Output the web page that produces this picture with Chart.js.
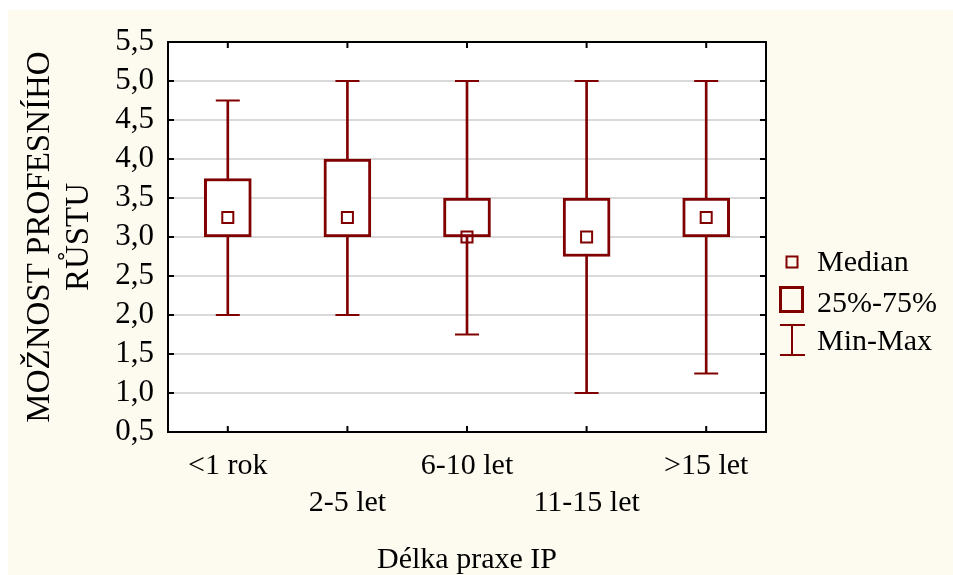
<!DOCTYPE html>
<html>
<head>
<meta charset="utf-8">
<script src="https://cdn.jsdelivr.net/npm/chart.js@4.4.1/dist/chart.umd.min.js"></script>
<style>
  html, body { margin: 0; padding: 0; background: #fff; }
  #wrap { width: 953px; height: 575px; position: relative; }
</style>
</head>
<body>
<div id="wrap"><canvas id="chart"></canvas></div>
<script>
// --- DATA ---
const categories = ['<1 rok', '2-5 let', '6-10 let', '11-15 let', '>15 let'];
const minima  = [2.0, 2.0, 1.75, 1.0, 1.25];
const q1      = [3.0, 3.0, 3.0, 2.75, 3.0];
const medians = [3.25, 3.25, 3.0, 3.0, 3.25];
const q3      = [3.75, 4.0, 3.5, 3.5, 3.5];
const maxima  = [4.75, 5.0, 5.0, 5.0, 5.0];
const yMin = 0.5, yMax = 5.5, yStep = 0.5;
const legendLabels = ['Median', '25%-75%', 'Min-Max'];

const RED = '#800000';
const FONT = '"Liberation Serif", "Times New Roman", serif';

// pozadí + bílá plocha grafu
const backgroundPlugin = {
  id: 'background',
  beforeDraw(chart) {
    const { ctx, chartArea: a } = chart;
    ctx.save();
    ctx.fillStyle = '#fdfaf0';
    ctx.fillRect(8, 10, chart.width - 8, chart.height - 10);
    ctx.fillStyle = '#fff';
    ctx.fillRect(a.left, a.top, a.right - a.left, a.bottom - a.top);
    ctx.restore();
  }
};

// rámeček s tickmarky dovnitř
const framePlugin = {
  id: 'frame',
  afterDraw(chart) {
    const { ctx, chartArea: a } = chart;
    const x = chart.scales.x, y = chart.scales.y;
    ctx.save();
    ctx.strokeStyle = '#000';
    ctx.lineWidth = 2;
    ctx.strokeRect(a.left, a.top, a.right - a.left, a.bottom - a.top);
    ctx.beginPath();
    y.ticks.forEach(t => {
      const py = y.getPixelForValue(t.value);
      ctx.moveTo(a.left, py); ctx.lineTo(a.left + 6, py);
      ctx.moveTo(a.right, py); ctx.lineTo(a.right - 6, py);
    });
    categories.forEach((c, i) => {
      const px = x.getPixelForValue(i);
      ctx.moveTo(px, a.top); ctx.lineTo(px, a.top + 6);
      ctx.moveTo(px, a.bottom); ctx.lineTo(px, a.bottom - 6);
    });
    ctx.stroke();
    ctx.restore();
  }
};

// legenda vpravo
const legendPlugin = {
  id: 'boxLegend',
  afterDraw(chart) {
    const { ctx } = chart;
    const cx = 792, tx = 817;
    ctx.save();
    ctx.strokeStyle = RED;
    // Median
    ctx.lineWidth = 2;
    ctx.strokeRect(cx - 5.5, 256.5, 11, 11);
    // 25%-75%
    ctx.lineWidth = 3;
    ctx.strokeRect(780.5, 287.5, 22, 24);
    // Min-Max
    ctx.lineWidth = 2;
    ctx.beginPath();
    ctx.moveTo(cx, 325); ctx.lineTo(cx, 355);
    ctx.moveTo(780, 325); ctx.lineTo(805, 325);
    ctx.moveTo(780, 355); ctx.lineTo(805, 355);
    ctx.stroke();
    ctx.fillStyle = '#000';
    ctx.font = '30px ' + FONT;
    ctx.textBaseline = 'alphabetic';
    ctx.textAlign = 'left';
    ctx.fillText(legendLabels[0], tx, 271);
    ctx.fillText(legendLabels[1], tx, 312);
    ctx.fillText(legendLabels[2], tx, 350);
    ctx.restore();
  }
};

new Chart(document.getElementById('chart'), {
  type: 'bar',
  data: {
    labels: categories,
    datasets: [
      {
        type: 'line', data: medians, order: 1,
        showLine: false, pointStyle: 'rect', pointRadius: 7.8, pointHoverRadius: 7.8,
        pointBorderWidth: 2, pointBorderColor: RED, pointBackgroundColor: 'rgba(0,0,0,0)'
      },
      {
        data: categories.map((c, i) => [q1[i], q3[i]]), order: 2, grouped: false,
        barThickness: 47, borderWidth: 3, borderSkipped: false,
        borderColor: RED, backgroundColor: '#fff'
      },
      {
        type: 'line', data: minima, order: 3,
        showLine: false, pointStyle: 'line', pointRadius: 12, pointHoverRadius: 12,
        pointBorderWidth: 2, pointBorderColor: RED
      },
      {
        type: 'line', data: maxima, order: 3,
        showLine: false, pointStyle: 'line', pointRadius: 12, pointHoverRadius: 12,
        pointBorderWidth: 2, pointBorderColor: RED
      },
      {
        data: categories.map((c, i) => [minima[i], maxima[i]]), order: 4, grouped: false,
        barThickness: 2, borderWidth: 0, backgroundColor: RED
      }
    ]
  },
  options: {
    responsive: true,
    maintainAspectRatio: false,
    animation: false,
    devicePixelRatio: 1,
    layout: { padding: { left: 0, top: 42, right: 187, bottom: 0 } },
    plugins: {
      legend: { display: false },
      tooltip: { enabled: false }
    },
    scales: {
      x: {
        offset: true,
        grid: { display: false, drawTicks: false },
        border: { display: false },
        ticks: {
          color: '#000',
          font: { family: FONT, size: 30, lineHeight: 1.22 },
          padding: 16,
          maxRotation: 0,
          autoSkip: false,
          callback(value, index) {
            const l = this.getLabelForValue(value);
            return index % 2 === 0 ? [l, ''] : ['', l];
          }
        },
        title: {
          display: true, text: 'Délka praxe IP', color: '#000',
          font: { family: FONT, size: 30, lineHeight: 1.0 },
          padding: { top: 0, bottom: 0 }
        },
        afterFit(scale) { scale.height = 143; }
      },
      y: {
        min: yMin, max: yMax,
        grid: { color: '#d9d9d9', lineWidth: 2, drawTicks: false },
        border: { display: false },
        ticks: {
          stepSize: yStep,
          autoSkip: false,
          color: '#000',
          font: { family: FONT, size: 31, lineHeight: 1.0 },
          padding: 14,
          callback: v => v.toFixed(1).replace('.', ',')
        },
        title: {
          display: true, text: ['MOŽNOST PROFESNÍHO', 'RŮSTU'], color: '#000',
          font: { family: FONT, size: 33, lineHeight: 1.18 },
          padding: { top: 21, bottom: 0 }
        },
        afterFit(scale) { scale.width = 168; }
      }
    }
  },
  plugins: [backgroundPlugin, framePlugin, legendPlugin]
});
</script>
</body>
</html>
